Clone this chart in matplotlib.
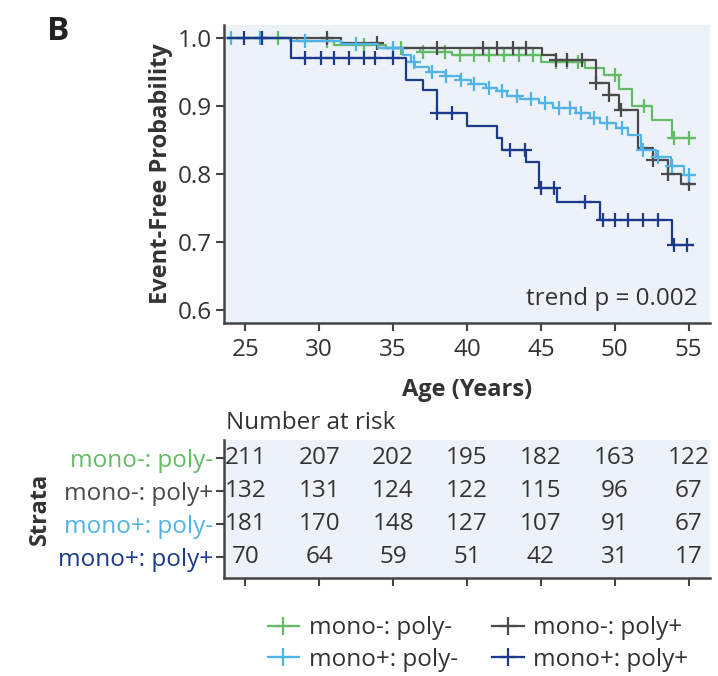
import numpy as np
import matplotlib
matplotlib.use("Agg")
import matplotlib.pyplot as plt
from matplotlib.lines import Line2D

plt.rcParams['font.family'] = ['Open Sans', 'DejaVu Sans']

# Strata, colours
strata = ["mono-: poly-", "mono-: poly+", "mono+: poly-", "mono+: poly+"]
colors = ["#64bb66", "#4a4a4a", "#52b3e6", "#1b3a8c"]

# Kaplan-Meier steps (age, survival after step)
mnpn_t = [23.85, 28.5, 31.0, 34.5, 36.8, 39.0, 45.0, 48.0, 49.3, 50.3, 51.2, 52.5, 53.9, 55.3]
mnpn_s = [1.0, 0.995, 0.99, 0.985, 0.98, 0.975, 0.965, 0.956, 0.945, 0.925, 0.90, 0.879, 0.853, 0.853]
mnpn_c = [27.2, 30.5, 33.0, 35.5, 37.0, 38.5, 39.5, 40.5, 41.5, 42.5, 43.5, 44.5, 46.0, 46.8,
          47.5, 50.0, 52.0, 54.0, 55.0]

mnpp_t = [23.85, 31.5, 34.0, 45.1, 46.0, 48.7, 49.6, 50.3, 51.6, 52.6, 53.6, 54.5, 55.3]
mnpp_s = [1.0, 0.993, 0.985, 0.975, 0.968, 0.934, 0.916, 0.894, 0.838, 0.82, 0.80, 0.785, 0.785]
mnpp_c = [30.5, 33.9, 38.0, 41.1, 42.0, 43.1, 44.0, 46.0, 46.8, 47.8, 48.7, 49.6, 50.4,
          52.6, 53.6, 55.0]

mppn_t = [23.85, 28.0, 31.5, 34.0, 35.7, 36.2, 36.5, 37.4, 38.5, 39.5, 40.3, 41.3, 42.0, 42.7,
          43.6, 44.9, 45.8, 47.4, 48.3, 49.0, 50.1, 50.9, 51.8, 52.8, 53.8, 54.7, 55.3]
mppn_s = [1.0, 0.996, 0.991, 0.985, 0.975, 0.965, 0.957, 0.95, 0.944, 0.938, 0.933, 0.927,
          0.922, 0.915, 0.91, 0.905, 0.897, 0.89, 0.882, 0.875, 0.868, 0.858, 0.835, 0.825,
          0.812, 0.798, 0.798]
mppn_c = [24.0, 26.0, 29.0, 32.5, 35.0, 36.4, 37.6, 38.6, 39.6, 40.5, 41.5, 42.4, 43.4,
          44.3, 45.3, 46.2, 47.0, 47.7, 48.6, 49.5, 50.5, 51.9, 52.9, 53.9, 55.0]

mppp_t = [23.85, 28.1, 35.9, 37.0, 38.0, 40.0, 42.0, 42.4, 44.0, 44.9, 46.1, 49.0, 53.9, 55.3]
mppp_s = [1.0, 0.971, 0.938, 0.924, 0.89, 0.87, 0.853, 0.835, 0.818, 0.779, 0.759, 0.732,
          0.696, 0.696]
mppp_c = [24.9, 26.1, 29.0, 30.1, 31.0, 32.0, 33.0, 33.8, 35.0, 38.0, 39.0, 42.9, 43.9,
          45.0, 45.9, 48.0, 49.2, 50.0, 50.9, 51.9, 52.9, 54.0, 54.9]

curves = [(mnpn_t, mnpn_s, mnpn_c), (mnpp_t, mnpp_s, mnpp_c),
          (mppn_t, mppn_s, mppn_c), (mppp_t, mppp_s, mppp_c)]

# Number at risk table
risk_ages = [25, 30, 35, 40, 45, 50, 55]
risk_mnpn = [211, 207, 202, 195, 182, 163, 122]
risk_mnpp = [132, 131, 124, 122, 115, 96, 67]
risk_mppn = [181, 170, 148, 127, 107, 91, 67]
risk_mppp = [70, 64, 59, 51, 42, 31, 17]
risk_rows = [risk_mnpn, risk_mnpp, risk_mppn, risk_mppp]

W, H = 718, 676
fig = plt.figure(figsize=(W / 100, H / 100), dpi=100)
bg = "#edf2f9"
txt = "#333333"
fs = 17.5

# --- Survival curves ---
ax = fig.add_axes([224 / W, 1 - 323 / H, 486 / W, 298 / H])
ax.set_facecolor(bg)
for (t, s, c), col in zip(curves, colors):
    t = np.array(t)
    s = np.array(s)
    ax.step(t, s, where='post', color=col, lw=1.6)
    c = np.array(c)
    cy = s[np.searchsorted(t, c, side='right') - 1]
    ax.plot(c, cy, ls='none', marker='+', ms=10, mew=1.6, color=col)

ax.set_xlim(23.55, 56.45)
ax.set_ylim(0.581, 1.019)
ax.set_xticks(risk_ages)
ax.set_yticks([0.6, 0.7, 0.8, 0.9, 1.0])
ax.set_yticklabels(["0.6", "0.7", "0.8", "0.9", "1.0"])
for side in ['top', 'right']:
    ax.spines[side].set_visible(False)
for side in ['left', 'bottom']:
    ax.spines[side].set_linewidth(1.8)
    ax.spines[side].set_color("#444444")
ax.tick_params(axis='both', length=6, width=1.5, color="#444444", labelsize=fs,
               labelcolor=txt, pad=3)
ax.tick_params(axis='x', pad=5)
ax.set_xlabel("Age (Years)", fontsize=17, fontweight='bold', color=txt, labelpad=11)
ax.set_ylabel("Event-Free Probability", fontsize=17, fontweight='bold', color=txt, labelpad=3)
ax.text(0.975, 0.04, "trend p = 0.002", transform=ax.transAxes, ha='right', va='bottom',
        fontsize=fs, color=txt)

fig.text(47 / W, 1 - 31 / H, "B", fontsize=24, fontweight='bold', color="#222222",
         ha='left', va='center')

# --- Number at risk table ---
axr = fig.add_axes([224 / W, 1 - 578 / H, 486 / W, 138 / H])
axr.set_facecolor(bg)
axr.set_xlim(ax.get_xlim())
axr.set_ylim(-0.64, 3.55)
for i, row in enumerate(risk_rows):
    for a, n in zip(risk_ages, row):
        axr.text(a, 3 - i, str(n), ha='center', va='center', fontsize=fs, color=txt)
axr.set_xticks(risk_ages)
axr.set_xticklabels([])
axr.set_yticks([3, 2, 1, 0])
axr.set_yticklabels(strata)
for lab, col in zip(axr.get_yticklabels(), colors):
    lab.set_color(col)
for side in ['top', 'right']:
    axr.spines[side].set_visible(False)
for side in ['left', 'bottom']:
    axr.spines[side].set_linewidth(1.8)
    axr.spines[side].set_color("#444444")
axr.tick_params(axis='both', length=6, width=1.5, color="#444444", labelsize=fs, pad=2)
axr.set_ylabel("Strata", fontsize=17, fontweight='bold', color=txt, labelpad=4)
fig.text(226 / W, 1 - 423 / H, "Number at risk", fontsize=fs, color=txt, ha='left', va='center')

# --- Legend (row-wise order) ---
order = [0, 2, 1, 3]
handles = [Line2D([], [], color=colors[k], lw=1.6, marker='+', ms=13, mew=1.6) for k in order]
labels = [strata[k] for k in order]
fig.legend(handles, labels, loc='center', bbox_to_anchor=(478 / W, 1 - 644 / H), ncol=2,
           frameon=False, fontsize=fs, handlelength=1.3, handletextpad=0.4,
           columnspacing=1.4, labelspacing=0.3, labelcolor=txt)

fig.savefig("out.png", dpi=100)
